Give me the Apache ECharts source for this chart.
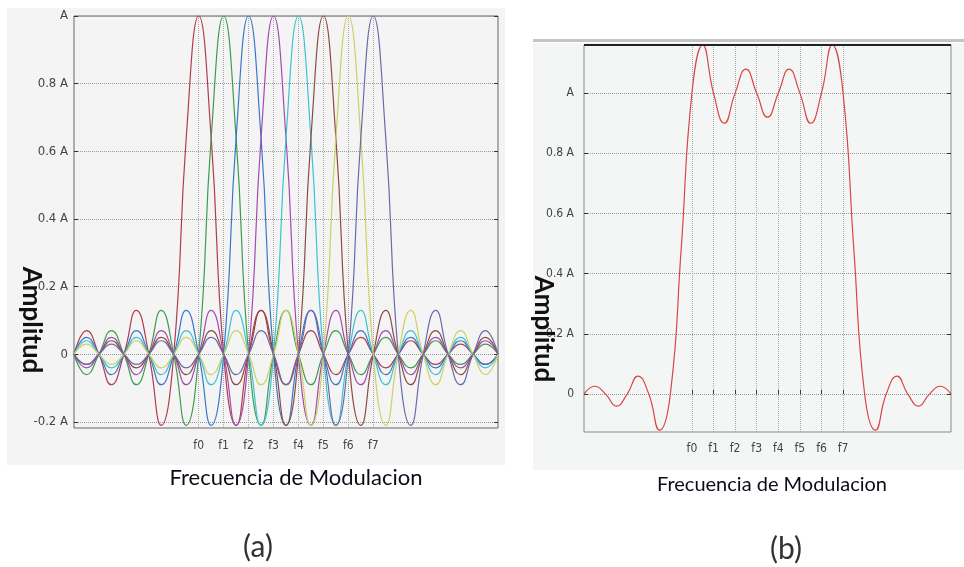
<!DOCTYPE html>
<html>
<head>
<meta charset="utf-8">
<script src="https://cdn.jsdelivr.net/npm/echarts@6/dist/echarts.min.js"></script>
<style>
  html, body { margin: 0; padding: 0; background: #fff; }
  #chart { width: 964px; height: 567px; }
</style>
</head>
<body>
<div id="chart"></div>
<script>
// sample positions along the frequency axis (carrier spacing = 1)
const xs = [0, 0.5, 1, 1.5, 2, 2.5, 3, 3.5, 4, 4.5, 5, 5.5, 6, 6.5, 7, 7.5, 8, 8.5,
  9, 9.5, 10, 10.5, 11, 11.5, 12, 12.5, 13, 13.5, 14, 14.5, 15, 15.5, 16, 16.5, 17]

// (a) one curve per subcarrier
const f0 = [0, 0.07, 0, -0.09, 0, 0.13, 0, -0.21, 0, 0.64, 1, 0.64, 0, -0.21, 0, 0.13, 0, -0.09, 0, 0.07, 0, -0.06, 0, 0.05, 0, -0.04, 0, 0.04, 0, -0.03, 0, 0.03, 0, -0.03, 0]
const f1 = [0, -0.06, 0, 0.07, 0, -0.09, 0, 0.13, 0, -0.21, 0, 0.64, 1, 0.64, 0, -0.21, 0, 0.13, 0, -0.09, 0, 0.07, 0, -0.06, 0, 0.05, 0, -0.04, 0, 0.04, 0, -0.03, 0, 0.03, 0]
const f2 = [0, 0.05, 0, -0.06, 0, 0.07, 0, -0.09, 0, 0.13, 0, -0.21, 0, 0.64, 1, 0.64, 0, -0.21, 0, 0.13, 0, -0.09, 0, 0.07, 0, -0.06, 0, 0.05, 0, -0.04, 0, 0.04, 0, -0.03, 0]
const f3 = [0, -0.04, 0, 0.05, 0, -0.06, 0, 0.07, 0, -0.09, 0, 0.13, 0, -0.21, 0, 0.64, 1, 0.64, 0, -0.21, 0, 0.13, 0, -0.09, 0, 0.07, 0, -0.06, 0, 0.05, 0, -0.04, 0, 0.04, 0]
const f4 = [0, 0.04, 0, -0.04, 0, 0.05, 0, -0.06, 0, 0.07, 0, -0.09, 0, 0.13, 0, -0.21, 0, 0.64, 1, 0.64, 0, -0.21, 0, 0.13, 0, -0.09, 0, 0.07, 0, -0.06, 0, 0.05, 0, -0.04, 0]
const f5 = [0, -0.03, 0, 0.04, 0, -0.04, 0, 0.05, 0, -0.06, 0, 0.07, 0, -0.09, 0, 0.13, 0, -0.21, 0, 0.64, 1, 0.64, 0, -0.21, 0, 0.13, 0, -0.09, 0, 0.07, 0, -0.06, 0, 0.05, 0]
const f6 = [0, 0.03, 0, -0.03, 0, 0.04, 0, -0.04, 0, 0.05, 0, -0.06, 0, 0.07, 0, -0.09, 0, 0.13, 0, -0.21, 0, 0.64, 1, 0.64, 0, -0.21, 0, 0.13, 0, -0.09, 0, 0.07, 0, -0.06, 0]
const f7 = [0, -0.03, 0, 0.03, 0, -0.03, 0, 0.04, 0, -0.04, 0, 0.05, 0, -0.06, 0, 0.07, 0, -0.09, 0, 0.13, 0, -0.21, 0, 0.64, 1, 0.64, 0, -0.21, 0, 0.13, 0, -0.09, 0, 0.07, 0]

// (b) combined spectrum
const total = [0, 0.026, 0, -0.04, 0, 0.06, 0, -0.12, 0, 0.48, 1, 1.16, 1, 0.9, 1, 1.08, 1, 0.92,
  1, 1.08, 1, 0.9, 1, 1.16, 1, 0.48, 0, -0.12, 0, 0.06, 0, -0.04, 0, 0.026, 0]

const fLabels = ['f0', 'f1', 'f2', 'f3', 'f4', 'f5', 'f6', 'f7']
const fPos = [5, 6, 7, 8, 9, 10, 11, 12]

const yTicksA = [-0.2, 0, 0.2, 0.4, 0.6, 0.8, 1]
const yLabelsA = ['-0.2 A', '0', '0.2 A', '0.4 A', '0.6 A', '0.8 A', 'A']
const yTicksB = [0, 0.2, 0.4, 0.6, 0.8, 1]
const yLabelsB = ['0', '0.2 A', '0.4 A', '0.6 A', '0.8 A', 'A']

const colorsA = ['#b23a4c', '#3c9c4c', '#3a76c6', '#a24aae', '#3cc2d2', '#8c4a42', '#cfcf62', '#6a6aaa']
const seriesA = [f0, f1, f2, f3, f4, f5, f6, f7]

const tickFont = "'Liberation Sans Narrow', 'DejaVu Sans Condensed', 'Liberation Sans', sans-serif"
const textFont = "Lato, 'Open Sans', sans-serif"

const lookup = (ticks, labels) => (v) => {
  const i = ticks.findIndex((t) => Math.abs(t - v) < 1e-6)
  return i < 0 ? '' : labels[i]
}

const xAxisFor = (gridIndex, margin) => ({
  type: 'value',
  gridIndex,
  min: 0,
  max: 17,
  interval: 1,
  axisLine: { show: false },
  axisTick: {
    show: true,
    inside: true,
    length: 4,
    customValues: fPos,
    lineStyle: { color: '#333' },
  },
  axisLabel: {
    customValues: fPos,
    formatter: lookup(fPos, fLabels),
    margin,
    color: '#444',
    fontSize: 12,
    fontFamily: tickFont,
  },
  splitLine: {
    show: true,
    lineStyle: { color: '#aaa', type: 'dotted', width: 1 },
  },
})

const yAxisFor = (gridIndex, min, max, ticks, labels, margin, fontSize) => ({
  type: 'value',
  gridIndex,
  min,
  max,
  axisLine: { show: false },
  axisTick: {
    show: true,
    inside: true,
    length: 4,
    customValues: ticks,
    lineStyle: { color: '#333' },
  },
  axisLabel: {
    customValues: ticks,
    formatter: lookup(ticks, labels),
    margin,
    color: '#444',
    fontSize,
    fontFamily: tickFont,
  },
  splitLine: {
    show: true,
    lineStyle: { color: '#999', type: 'dotted', width: 1 },
  },
})

const rightAxisFor = (gridIndex, min, max, ticks) => ({
  type: 'value',
  gridIndex,
  position: 'right',
  min,
  max,
  axisLine: { show: false },
  axisTick: {
    show: true,
    inside: true,
    length: 4,
    customValues: ticks,
    lineStyle: { color: '#333' },
  },
  axisLabel: { show: false },
  splitLine: { show: false },
})

const chart = echarts.init(document.getElementById('chart'))

chart.setOption({
  backgroundColor: '#fff',
  animation: false,
  grid: [
    { left: 74, top: 16, width: 424, height: 412, show: true, borderColor: '#666', borderWidth: 1, backgroundColor: 'transparent' },
    { left: 584, top: 45, width: 367, height: 387, show: true, borderColor: '#888', borderWidth: 1, backgroundColor: 'transparent' },
  ],
  xAxis: [xAxisFor(0, 12), xAxisFor(1, 11)],
  yAxis: [
    yAxisFor(0, -0.218, 1, yTicksA, yLabelsA, 6, 13),
    yAxisFor(1, -0.126, 1.16, yTicksB, yLabelsB, 10, 12),
    rightAxisFor(0, -0.218, 1, yTicksA),
    rightAxisFor(1, -0.126, 1.16, yTicksB),
  ],
  series: [
    ...seriesA.map((vals, k) => ({
      name: fLabels[k],
      type: 'line',
      xAxisIndex: 0,
      yAxisIndex: 0,
      data: xs.map((x, i) => [x, vals[i]]),
      smooth: true,
      symbol: 'none',
      lineStyle: { color: colorsA[k], width: 1.2 },
      z: 3,
    })),
    {
      name: 'total',
      type: 'line',
      xAxisIndex: 1,
      yAxisIndex: 1,
      data: xs.map((x, i) => [x, total[i]]),
      smooth: true,
      symbol: 'none',
      lineStyle: { color: '#d84646', width: 1.2 },
      z: 3,
    },
  ],
  graphic: [
    // panel backgrounds
    { type: 'rect', z: -10, shape: { x: 7, y: 8, width: 498, height: 457 }, style: { fill: '#f4f4f4' }, silent: true },
    { type: 'rect', z: -10, shape: { x: 533, y: 43, width: 431, height: 427 }, style: { fill: '#f4f6f6' }, silent: true },
    { type: 'rect', z: -9, shape: { x: 533, y: 39, width: 431, height: 3 }, style: { fill: '#c4c4c4' }, silent: true },
    { type: 'line', z: 10, shape: { x1: 584, y1: 45, x2: 951, y2: 45 }, style: { stroke: '#222', lineWidth: 2 }, silent: true },
    // axis titles
    {
      type: 'text', x: 31, y: 320, rotation: -Math.PI / 2, z: 20,
      style: { text: 'Amplitud', font: 'bold 26px ' + textFont, fill: '#111', textAlign: 'center', textVerticalAlign: 'middle' },
    },
    {
      type: 'text', x: 543, y: 329, rotation: -Math.PI / 2, z: 20,
      style: { text: 'Amplitud', font: 'bold 26px ' + textFont, fill: '#111', textAlign: 'center', textVerticalAlign: 'middle' },
    },
    {
      type: 'text', x: 296, y: 478, z: 20,
      style: { text: 'Frecuencia de Modulacion', font: '22px ' + textFont, fill: '#0c0c18', textAlign: 'center', textVerticalAlign: 'middle' },
    },
    {
      type: 'text', x: 772, y: 485, z: 20,
      style: { text: 'Frecuencia de Modulacion', font: '20px ' + textFont, fill: '#0c0c18', textAlign: 'center', textVerticalAlign: 'middle' },
    },
    {
      type: 'text', x: 258, y: 547, z: 20,
      style: { text: '(a)', font: '30px ' + textFont, fill: '#333', textAlign: 'center', textVerticalAlign: 'middle' },
    },
    {
      type: 'text', x: 786, y: 549, z: 20,
      style: { text: '(b)', font: '30px ' + textFont, fill: '#333', textAlign: 'center', textVerticalAlign: 'middle' },
    },
  ],
})
</script>
</body>
</html>
